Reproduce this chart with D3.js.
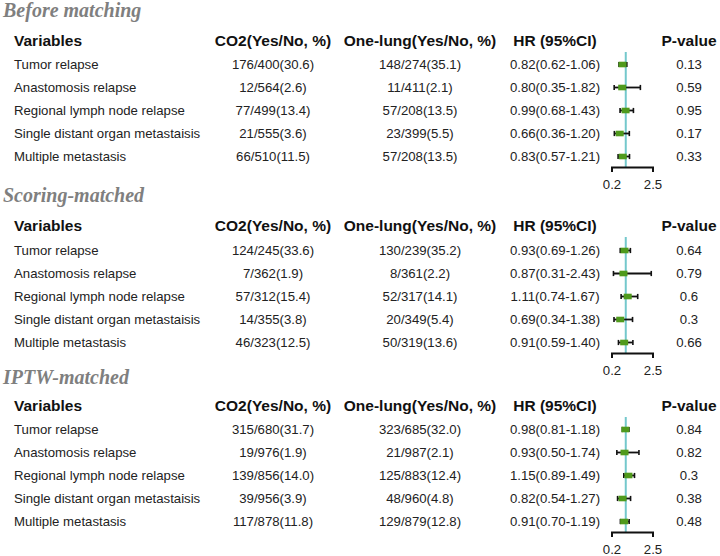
<!DOCTYPE html>
<html>
<head>
<meta charset="utf-8">
<script src="https://cdn.jsdelivr.net/npm/d3@7/dist/d3.min.js"></script>
<style>
  html, body { margin: 0; padding: 0; background: #fff; }
  svg { display: block; }
</style>
</head>
<body>
<svg id="chart" width="720" height="556"></svg>
<script>
// ---------- DATA ----------
const sectionTitles = ["Before matching", "Scoring-matched", "IPTW-matched"];
const headers = ["Variables", "CO2(Yes/No, %)", "One-lung(Yes/No, %)", "HR (95%CI)", "P-value"];
const variables = ["Tumor relapse", "Anastomosis relapse", "Regional lymph node relapse",
                   "Single distant organ metastaisis", "Multiple metastasis"];
const axisTicks = [0.2, 2.5];
const refValue = 1;

const beforeCO2 = ["176/400(30.6)", "12/564(2.6)", "77/499(13.4)", "21/555(3.6)", "66/510(11.5)"];
const beforeOneLung = ["148/274(35.1)", "11/411(2.1)", "57/208(13.5)", "23/399(5.5)", "57/208(13.5)"];
const beforeHR = [0.82, 0.80, 0.99, 0.66, 0.83];
const beforeLo = [0.62, 0.35, 0.68, 0.36, 0.57];
const beforeHi = [1.06, 1.82, 1.43, 1.20, 1.21];
const beforeP = ["0.13", "0.59", "0.95", "0.17", "0.33"];

const scoringCO2 = ["124/245(33.6)", "7/362(1.9)", "57/312(15.4)", "14/355(3.8)", "46/323(12.5)"];
const scoringOneLung = ["130/239(35.2)", "8/361(2.2)", "52/317(14.1)", "20/349(5.4)", "50/319(13.6)"];
const scoringHR = [0.93, 0.87, 1.11, 0.69, 0.91];
const scoringLo = [0.69, 0.31, 0.74, 0.34, 0.59];
const scoringHi = [1.26, 2.43, 1.67, 1.38, 1.40];
const scoringP = ["0.64", "0.79", "0.6", "0.3", "0.66"];

const iptwCO2 = ["315/680(31.7)", "19/976(1.9)", "139/856(14.0)", "39/956(3.9)", "117/878(11.8)"];
const iptwOneLung = ["323/685(32.0)", "21/987(2.1)", "125/883(12.4)", "48/960(4.8)", "129/879(12.8)"];
const iptwHR = [0.98, 0.93, 1.15, 0.82, 0.91];
const iptwLo = [0.81, 0.50, 0.89, 0.54, 0.70];
const iptwHi = [1.18, 1.74, 1.49, 1.27, 1.19];
const iptwP = ["0.84", "0.82", "0.3", "0.38", "0.48"];

// ---------- LAYOUT ----------
const sections = [
  { title: sectionTitles[0], co2: beforeCO2, ol: beforeOneLung, hr: beforeHR, lo: beforeLo, hi: beforeHi, p: beforeP,
    titleY: 17, headerY: 46, rowY: 69 },
  { title: sectionTitles[1], co2: scoringCO2, ol: scoringOneLung, hr: scoringHR, lo: scoringLo, hi: scoringHi, p: scoringP,
    titleY: 202, headerY: 231, rowY: 255 },
  { title: sectionTitles[2], co2: iptwCO2, ol: iptwOneLung, hr: iptwHR, lo: iptwLo, hi: iptwHi, p: iptwP,
    titleY: 384, headerY: 411, rowY: 434 }
];
const rowStep = 23;
const colX = [14, 273, 420, 555, 689];
const colAnchor = ["start", "middle", "middle", "middle", "middle"];

const svg = d3.select("#chart");
const x = d3.scaleLinear().domain([axisTicks[0], axisTicks[1]]).range([611.5, 652.5]);
const fmt2 = d3.format(".2f");

sections.forEach(sec => {
  const g = svg.append("g");
  // title
  g.append("text")
    .attr("x", 3).attr("y", sec.titleY)
    .attr("font-family", "'Liberation Serif', 'Times New Roman', serif")
    .attr("font-weight", "bold").attr("font-style", "italic")
    .attr("font-size", 20).attr("fill", "#7f7f7f")
    .text(sec.title);
  // headers
  headers.forEach((h, i) => {
    g.append("text")
      .attr("x", colX[i]).attr("y", sec.headerY)
      .attr("text-anchor", colAnchor[i])
      .attr("font-family", "'Liberation Sans', Arial, sans-serif")
      .attr("font-weight", "bold").attr("font-size", 15.5).attr("fill", "#111")
      .text(h);
  });
  // rows
  variables.forEach((v, r) => {
    const y = sec.rowY + r * rowStep;
    const cells = [v, sec.co2[r], sec.ol[r],
      `${fmt2(sec.hr[r])}(${fmt2(sec.lo[r])}-${fmt2(sec.hi[r])})`, sec.p[r]];
    cells.forEach((c, i) => {
      g.append("text")
        .attr("x", colX[i]).attr("y", y)
        .attr("text-anchor", colAnchor[i])
        .attr("font-family", "'Liberation Sans', Arial, sans-serif")
        .attr("font-size", 13.2).attr("fill", "#222")
        .text(c);
    });
  });

  // forest plot
  const lastY = sec.rowY + (variables.length - 1) * rowStep;
  const axisY = lastY + 6;
  g.append("line")
    .attr("x1", x(refValue)).attr("x2", x(refValue))
    .attr("y1", sec.headerY + 6).attr("y2", axisY)
    .attr("stroke", "#74c8cc").attr("stroke-width", 2);

  variables.forEach((v, r) => {
    const cy = sec.rowY + r * rowStep - 4.5;
    const lo = x(sec.lo[r]), hi = x(sec.hi[r]), c = x(sec.hr[r]);
    g.append("line").attr("x1", lo).attr("x2", hi).attr("y1", cy).attr("y2", cy)
      .attr("stroke", "#111").attr("stroke-width", 1.8);
    [lo, hi].forEach(xx => {
      g.append("line").attr("x1", xx).attr("x2", xx).attr("y1", cy - 2.6).attr("y2", cy + 2.6)
        .attr("stroke", "#111").attr("stroke-width", 1.6);
    });
    g.append("rect").attr("x", c - 4).attr("y", cy - 2.8).attr("width", 8).attr("height", 5.6)
      .attr("fill", "#4f9a1c");
  });

  const axis = d3.axisBottom(x).tickValues(axisTicks).tickFormat(d3.format(".1f"))
    .tickSizeInner(5).tickSizeOuter(5).tickPadding(8);
  const ag = g.append("g").attr("transform", `translate(0,${axisY})`).call(axis);
  ag.select(".domain").attr("stroke", "#111").attr("stroke-width", 2);
  ag.selectAll(".tick line").attr("stroke", "#111").attr("stroke-width", 2);
  ag.selectAll(".tick text")
    .attr("font-family", "'Liberation Sans', Arial, sans-serif")
    .attr("font-size", 13.2).attr("fill", "#222");
});
</script>
</body>
</html>
